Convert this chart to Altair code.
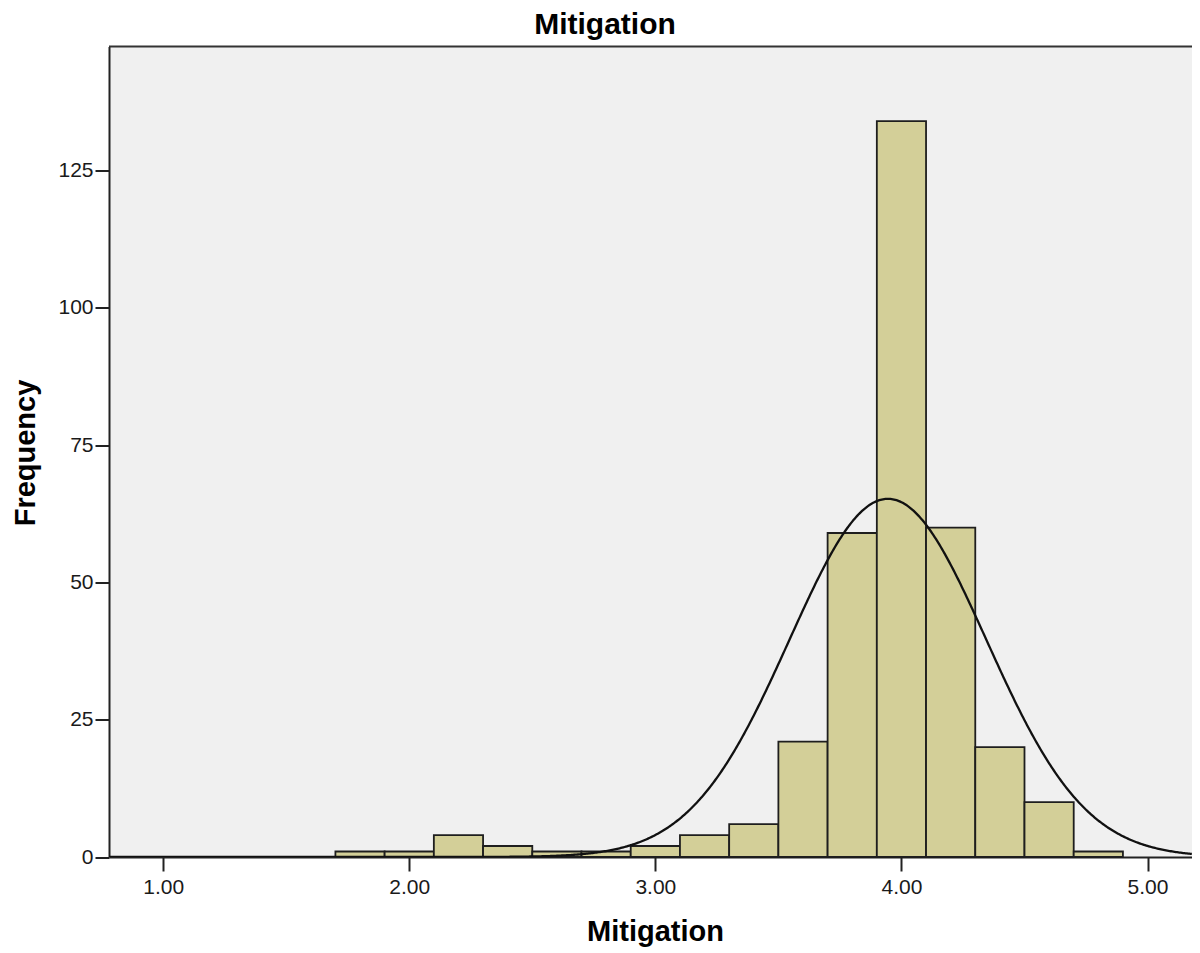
import altair as alt
import pandas as pd

# Histogram data
bin_starts = [1.7, 1.9, 2.1, 2.3, 2.5, 2.7, 2.9, 3.1, 3.3, 3.5, 3.7, 3.9, 4.1, 4.3, 4.5, 4.7]
counts = [1, 1, 4, 2, 1, 1, 2, 4, 6, 21, 59, 134, 60, 20, 10, 1]
bin_width = 0.2

# Normal curve parameters
curve_mean = 3.945
curve_sd = 0.40
n_total = sum(counts)

x_ticks = [1, 2, 3, 4, 5]
y_ticks = [0, 25, 50, 75, 100, 125]

W = 1083
H = 810.5
PX_PER_UNIT = 246.1
x_domain = [0.78, 0.78 + W / PX_PER_UNIT]
y_domain = [0, 147.6]
FONT = "Liberation Sans, Arial, sans-serif"

df = pd.DataFrame({
    "start": bin_starts,
    "end": [round(s + bin_width, 2) for s in bin_starts],
    "count": counts,
})

xscale = alt.Scale(domain=x_domain, nice=False, zero=False)
yscale = alt.Scale(domain=y_domain, nice=False)

bars = alt.Chart(df).mark_bar(
    fill="#D3CF98", stroke="#1e1e1e", strokeWidth=1.8, opacity=1
).encode(
    x=alt.X("start:Q", scale=xscale,
            axis=alt.Axis(values=x_ticks, format=".2f", title="Mitigation",
                          titleX=546, titleY=83.5, titleBaseline="alphabetic",
                          titleAlign="center", labelPadding=5)),
    x2="end:Q",
    y=alt.Y("count:Q", scale=yscale,
            axis=alt.Axis(values=y_ticks, format="d", title="Frequency",
                          titleX=-75, titleY=406, titleAngle=270,
                          titleBaseline="alphabetic", titleAlign="center",
                          labelPadding=2)),
    y2=alt.datum(0),
)

curve = alt.Chart(alt.sequence(x_domain[0], x_domain[1], 0.005, as_="x")).transform_calculate(
    y=f"{n_total * bin_width} * densityNormal(datum.x, {curve_mean}, {curve_sd})"
).mark_line(color="#111111", strokeWidth=2.3, clip=True).encode(
    x=alt.X("x:Q", scale=xscale),
    y=alt.Y("y:Q", scale=yscale),
)

top_border = alt.Chart(df).mark_rule(color="#333333", strokeWidth=2).encode(
    x=alt.value(0), x2=alt.value(W), y=alt.value(0)
).transform_filter("datum.start == 1.7")

chart = alt.layer(bars, curve, top_border).properties(
    width=W,
    height=H,
    title=alt.TitleParams(
        "Mitigation", font=FONT, fontSize=30, fontWeight="bold", color="#000000",
        anchor="middle", frame="group", baseline="alphabetic", offset=15, dx=-45.5, dy=33,
    ),
    autosize=alt.AutoSizeParams(type="none"),
    padding={"left": 101, "top": 38.5, "right": 0, "bottom": 90},
    background="white",
).configure_view(
    fill="#F0F0F0", stroke=None
).configure_axis(
    grid=False,
    domainColor="#222222", domainWidth=2,
    tickColor="#222222", tickWidth=2, tickSize=14,
    labelFont=FONT, labelFontSize=21, labelColor="#1a1a1a",
    titleFont=FONT, titleFontSize=29, titleFontWeight="bold", titleColor="#000000",
)

chart.save("out.html", embed_options={"renderer": "svg", "actions": False})
